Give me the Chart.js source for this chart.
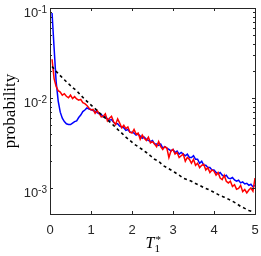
<!DOCTYPE html>
<html>
<head>
<meta charset="utf-8">
<script src="https://cdn.jsdelivr.net/npm/chart.js@4"></script>
<style>
html, body { margin: 0; padding: 0; background: #fff; }
</style>
</head>
<body>
<canvas id="chart" width="261" height="256"></canvas>
<script>
// bin centres of T1*
const timeBins = [0.05,0.1,0.15,0.2,0.25,0.3,0.35,0.4,0.45,0.5,
    0.55,0.6,0.65,0.7,0.75,0.8,0.85,0.9,0.95,1.0,
    1.05,1.1,1.15,1.2,1.25,1.3,1.35,1.4,1.45,1.5,
    1.55,1.6,1.65,1.7,1.75,1.8,1.85,1.9,1.95,2.0,
    2.05,2.1,2.15,2.2,2.25,2.3,2.35,2.4,2.45,2.5,
    2.55,2.6,2.65,2.7,2.75,2.8,2.85,2.9,2.95,3.0,
    3.05,3.1,3.15,3.2,3.25,3.3,3.35,3.4,3.45,3.5,
    3.55,3.6,3.65,3.7,3.75,3.8,3.85,3.9,3.95,4.0,
    4.05,4.1,4.15,4.2,4.25,4.3,4.35,4.4,4.45,4.5,
    4.55,4.6,4.65,4.7,4.75,4.8,4.85,4.9,4.95,5.0];

const blueProb = [0.088,0.036,0.0152,0.0093,0.007,0.006,0.0055,0.0052,0.0051,0.0051,
    0.0053,0.0055,0.0056,0.0061,0.0065,0.0071,0.0074,0.0078,0.0076,0.0075,
    0.0073,0.0072,0.0069,0.0067,0.0066,0.0062,0.0063,0.0059,0.0057,0.0058,
    0.0054,0.0052,0.0052,0.0049,0.0048,0.0047,0.0044,0.0045,0.0042,0.0042,
    0.0041,0.0039,0.004,0.0038,0.0036,0.0037,0.0035,0.0034,0.0033,0.0034,
    0.0031,0.0031,0.003,0.0031,0.0028,0.0029,0.0028,0.0027,0.0026,0.0027,
    0.0025,0.0026,0.0024,0.0025,0.0024,0.0023,0.0024,0.0022,0.0022,0.0023,
    0.0021,0.0021,0.0019,0.002,0.0018,0.0018,0.0017,0.0017,0.0016,0.0016,
    0.0015,0.00145,0.0015,0.0014,0.00135,0.0014,0.0013,0.00128,0.00132,0.00124,
    0.0012,0.00123,0.00115,0.00118,0.00112,0.00114,0.00108,0.00111,0.00104,0.00108];

const redProb = [0.027,0.0165,0.0135,0.0121,0.0117,0.0108,0.0112,0.0105,0.0101,0.0108,
    0.0099,0.0104,0.0098,0.0095,0.0097,0.0089,0.0087,0.0083,0.0078,0.0074,
    0.0075,0.0068,0.0073,0.0068,0.0062,0.0063,0.0067,0.0056,0.006,0.0063,
    0.0055,0.0051,0.0059,0.0053,0.0047,0.005,0.0046,0.0048,0.0042,0.0041,
    0.0045,0.004,0.0041,0.0035,0.0039,0.0036,0.0034,0.0037,0.0032,0.0033,
    0.0031,0.0029,0.0033,0.0029,0.0027,0.0029,0.0028,0.0022,0.0026,0.0027,
    0.0024,0.0025,0.0022,0.0023,0.0024,0.002,0.0022,0.0021,0.0019,0.0021,
    0.0018,0.0019,0.0017,0.0018,0.00185,0.0016,0.0017,0.0015,0.0016,0.00155,
    0.0014,0.0015,0.0013,0.00125,0.0014,0.0012,0.00115,0.0012,0.00105,0.0011,
    0.00098,0.001,0.00108,0.00092,0.00097,0.00089,0.00096,0.00101,0.00093,0.0013];

const fitBins = [0.05,0.15,0.25,0.35,0.45,0.55,0.65,0.75,0.85,0.95,
    1.05,1.15,1.25,1.35,1.45,1.55,1.65,1.75,1.85,1.95,
    2.05,2.15,2.25,2.35,2.45,2.55,2.65,2.75,2.85,2.95,
    3.05,3.15,3.25,3.35,3.45,3.55,3.65,3.75,3.85,3.95,
    4.05,4.15,4.25,4.35,4.45,4.55,4.65,4.75,4.85,4.95];
const fitProb = [0.0225,0.0198,0.0178,0.016,0.0145,0.0131,0.0121,0.0108,0.0097,0.0088,
    0.008,0.0073,0.0066,0.006,0.0055,0.005,0.0045,0.0041,0.0037,0.0034,
    0.0031,0.0029,0.0027,0.0025,0.0023,0.0021,0.002,0.0018,0.0017,0.0016,
    0.0015,0.0014,0.0013,0.00125,0.0012,0.00113,0.00108,0.00102,0.00098,0.00093,
    0.00088,0.00083,0.0008,0.00076,0.00072,0.00068,0.00063,0.0006,0.00057,0.00055];

const xTicks = [0, 1, 2, 3, 4, 5];
const yDecades = [-3, -2, -1];

const axisColor = '#262626';

function toPoints(xs, ys) {
    return xs.map((x, i) => ({ x: x, y: ys[i] }));
}

// box, inward ticks and tick labels drawn MATLAB style
const matlabAxes = {
    id: 'matlabAxes',
    afterDraw(chart) {
        const ctx = chart.ctx;
        const a = chart.chartArea;
        const xs = chart.scales.x;
        const ys = chart.scales.y;
        ctx.save();
        ctx.strokeStyle = axisColor;
        ctx.lineWidth = 1;
        ctx.strokeRect(Math.round(a.left) + 0.5, Math.round(a.top) + 0.5,
            Math.round(a.right - a.left), Math.round(a.bottom - a.top));

        ctx.beginPath();
        xTicks.forEach(v => {
            const px = Math.round(xs.getPixelForValue(v)) + 0.5;
            ctx.moveTo(px, a.bottom); ctx.lineTo(px, a.bottom - 3);
            ctx.moveTo(px, a.top); ctx.lineTo(px, a.top + 3);
        });
        yDecades.forEach(d => {
            for (let k = 1; k < 10; k++) {
                const v = k * Math.pow(10, d);
                if (v < ys.min || v > ys.max) continue;
                const py = Math.round(ys.getPixelForValue(v)) + 0.5;
                const len = k === 1 ? 3 : 2;
                ctx.moveTo(a.left, py); ctx.lineTo(a.left + len, py);
                ctx.moveTo(a.right, py); ctx.lineTo(a.right - len, py);
            }
        });
        ctx.stroke();

        ctx.fillStyle = axisColor;
        ctx.font = '13px "Liberation Sans", Arial, sans-serif';
        ctx.textAlign = 'center';
        ctx.textBaseline = 'alphabetic';
        xTicks.forEach(v => {
            ctx.fillText(String(v), xs.getPixelForValue(v), a.bottom + 20);
        });

        yDecades.forEach(d => {
            const py = ys.getPixelForValue(Math.pow(10, d));
            const sup = String(d);
            ctx.font = '10px "Liberation Sans", Arial, sans-serif';
            const supW = ctx.measureText(sup).width;
            ctx.textAlign = 'right';
            ctx.fillText(sup, a.left - 3, py + 5);
            ctx.font = '13px "Liberation Sans", Arial, sans-serif';
            ctx.fillText('10', a.left - 3 - supW, py + 9);
        });

        // axis titles
        ctx.fillStyle = '#000';
        ctx.font = 'italic 16px "Liberation Serif", "Times New Roman", serif';
        ctx.textAlign = 'left';
        const cx = (a.left + a.right) / 2;
        ctx.fillText('T', cx - 7, 248);
        ctx.font = '11px "Liberation Serif", "Times New Roman", serif';
        ctx.fillText('1', cx + 2, 252);
        ctx.fillText('*', cx + 3, 243);

        ctx.translate(15, (a.top + a.bottom) / 2);
        ctx.rotate(-Math.PI / 2);
        ctx.textAlign = 'center';
        ctx.font = '17px "Liberation Serif", "Times New Roman", serif';
        ctx.fillText('probability', 0, 0);
        ctx.restore();
    }
};

new Chart(document.getElementById('chart'), {
    type: 'line',
    data: {
        datasets: [
            {
                label: 'fit',
                data: toPoints(fitBins, fitProb),
                borderColor: '#000000',
                borderWidth: 1.6,
                borderDash: [3, 3],
                pointRadius: 0,
                order: 0
            },
            {
                label: 'red',
                data: toPoints(timeBins, redProb),
                borderColor: '#ff0000',
                borderWidth: 1.5,
                pointRadius: 0,
                order: 1
            },
            {
                label: 'blue',
                data: toPoints(timeBins, blueProb),
                borderColor: '#0000ff',
                borderWidth: 1.5,
                pointRadius: 0,
                order: 2
            }
        ]
    },
    options: {
        responsive: false,
        animation: false,
        layout: { padding: { top: 8, right: 6, left: 0, bottom: 0 } },
        plugins: {
            legend: { display: false },
            tooltip: { enabled: false }
        },
        scales: {
            x: {
                type: 'linear',
                min: 0,
                max: 5,
                grid: { display: false },
                border: { display: false },
                ticks: { display: false },
                afterFit: s => { s.height = 42; }
            },
            y: {
                type: 'logarithmic',
                min: 0.00052,
                max: 0.1,
                grid: { display: false },
                border: { display: false },
                ticks: { display: false },
                afterFit: s => { s.width = 50; }
            }
        }
    },
    plugins: [matlabAxes]
});
</script>
</body>
</html>
